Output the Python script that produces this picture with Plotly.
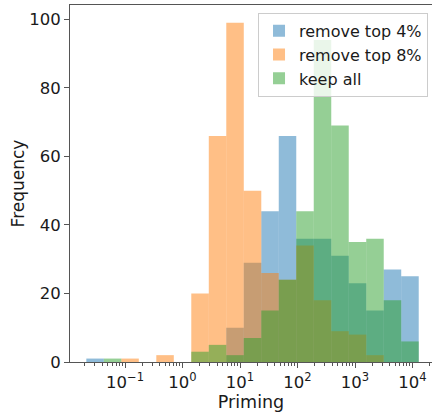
import numpy as np
import plotly.graph_objects as go

# Histogram counts per log-spaced bin (19 shared bins)
log_min = -1.673
log_max = 4.108
n_bins = 19

remove_top4 = [1, 0, 0, 0, 0, 0, 0, 0, 10, 29, 44, 66, 36, 36, 31, 23, 15, 27, 25]
remove_top8 = [0, 0, 1, 0, 2, 0, 20, 66, 99, 50, 26, 24, 34, 18, 9, 8, 2, 0, 0]
keep_all = [0, 1, 0, 0, 0, 0, 3, 5, 2, 7, 15, 24, 44, 94, 69, 35, 36, 18, 6]

series_names = ["remove top 4%", "remove top 8%", "keep all"]
tick_exponents = [-1, 0, 1, 2, 3, 4]
y_ticks = [0, 20, 40, 60, 80, 100]

edges = np.linspace(log_min, log_max, n_bins + 1)
centers = (edges[:-1] + edges[1:]) / 2
width = edges[1] - edges[0]

colors = ["rgba(31,119,180,0.5)", "rgba(255,127,14,0.5)", "rgba(44,160,44,0.5)"]

fig = go.Figure()
for name, vals, col in zip(series_names, [remove_top4, remove_top8, keep_all], colors):
    fig.add_trace(go.Bar(
        x=centers, y=vals, width=width, name=name,
        marker=dict(color=col, line=dict(width=0)),
    ))

minor_vals = [np.log10(k * 10.0 ** d) for d in range(-3, 5) for k in range(2, 10)]
font_family = "DejaVu Sans"
txt = "#1a1a1a"
spine = "#555555"

fig.update_layout(
    width=432, height=413,
    margin=dict(l=70, r=0, t=5, b=51),
    barmode="overlay",
    plot_bgcolor="white", paper_bgcolor="white",
    font=dict(family=font_family, size=16, color=txt),
    showlegend=True,
    legend=dict(
        x=0.989, y=0.978, xanchor="right", yanchor="top",
        bgcolor="rgba(255,255,255,0.8)", bordercolor="#cccccc", borderwidth=1,
        font=dict(size=16, family=font_family, color=txt),
        itemwidth=30, tracegroupgap=2,
    ),
    xaxis=dict(
        range=[-1.957, 4.339],
        tickmode="array",
        tickvals=tick_exponents,
        ticktext=["10<sup>\u2212%d</sup>" % (-e) if e < 0 else "10<sup>%d</sup>" % e for e in tick_exponents],
        ticks="outside", ticklen=5, tickwidth=1, tickcolor=spine,
        minor=dict(tickmode="array", tickvals=minor_vals, ticks="outside", ticklen=3, tickwidth=0.8, tickcolor=spine),
        showline=True, linecolor=spine, linewidth=1, mirror=True,
        showgrid=False, zeroline=False,
        tickfont=dict(size=16.5),
        title=dict(text="Priming", font=dict(size=17.5), standoff=3),
    ),
    yaxis=dict(
        range=[0, 104.2],
        tickmode="array", tickvals=y_ticks,
        ticks="outside", ticklen=5, tickwidth=1, tickcolor=spine,
        showline=True, linecolor=spine, linewidth=1, mirror=True,
        showgrid=False, zeroline=False,
        tickfont=dict(size=16.5),
        title=dict(text="Frequency", font=dict(size=17), standoff=0),
    ),
)

fig.write_html("out.html")
